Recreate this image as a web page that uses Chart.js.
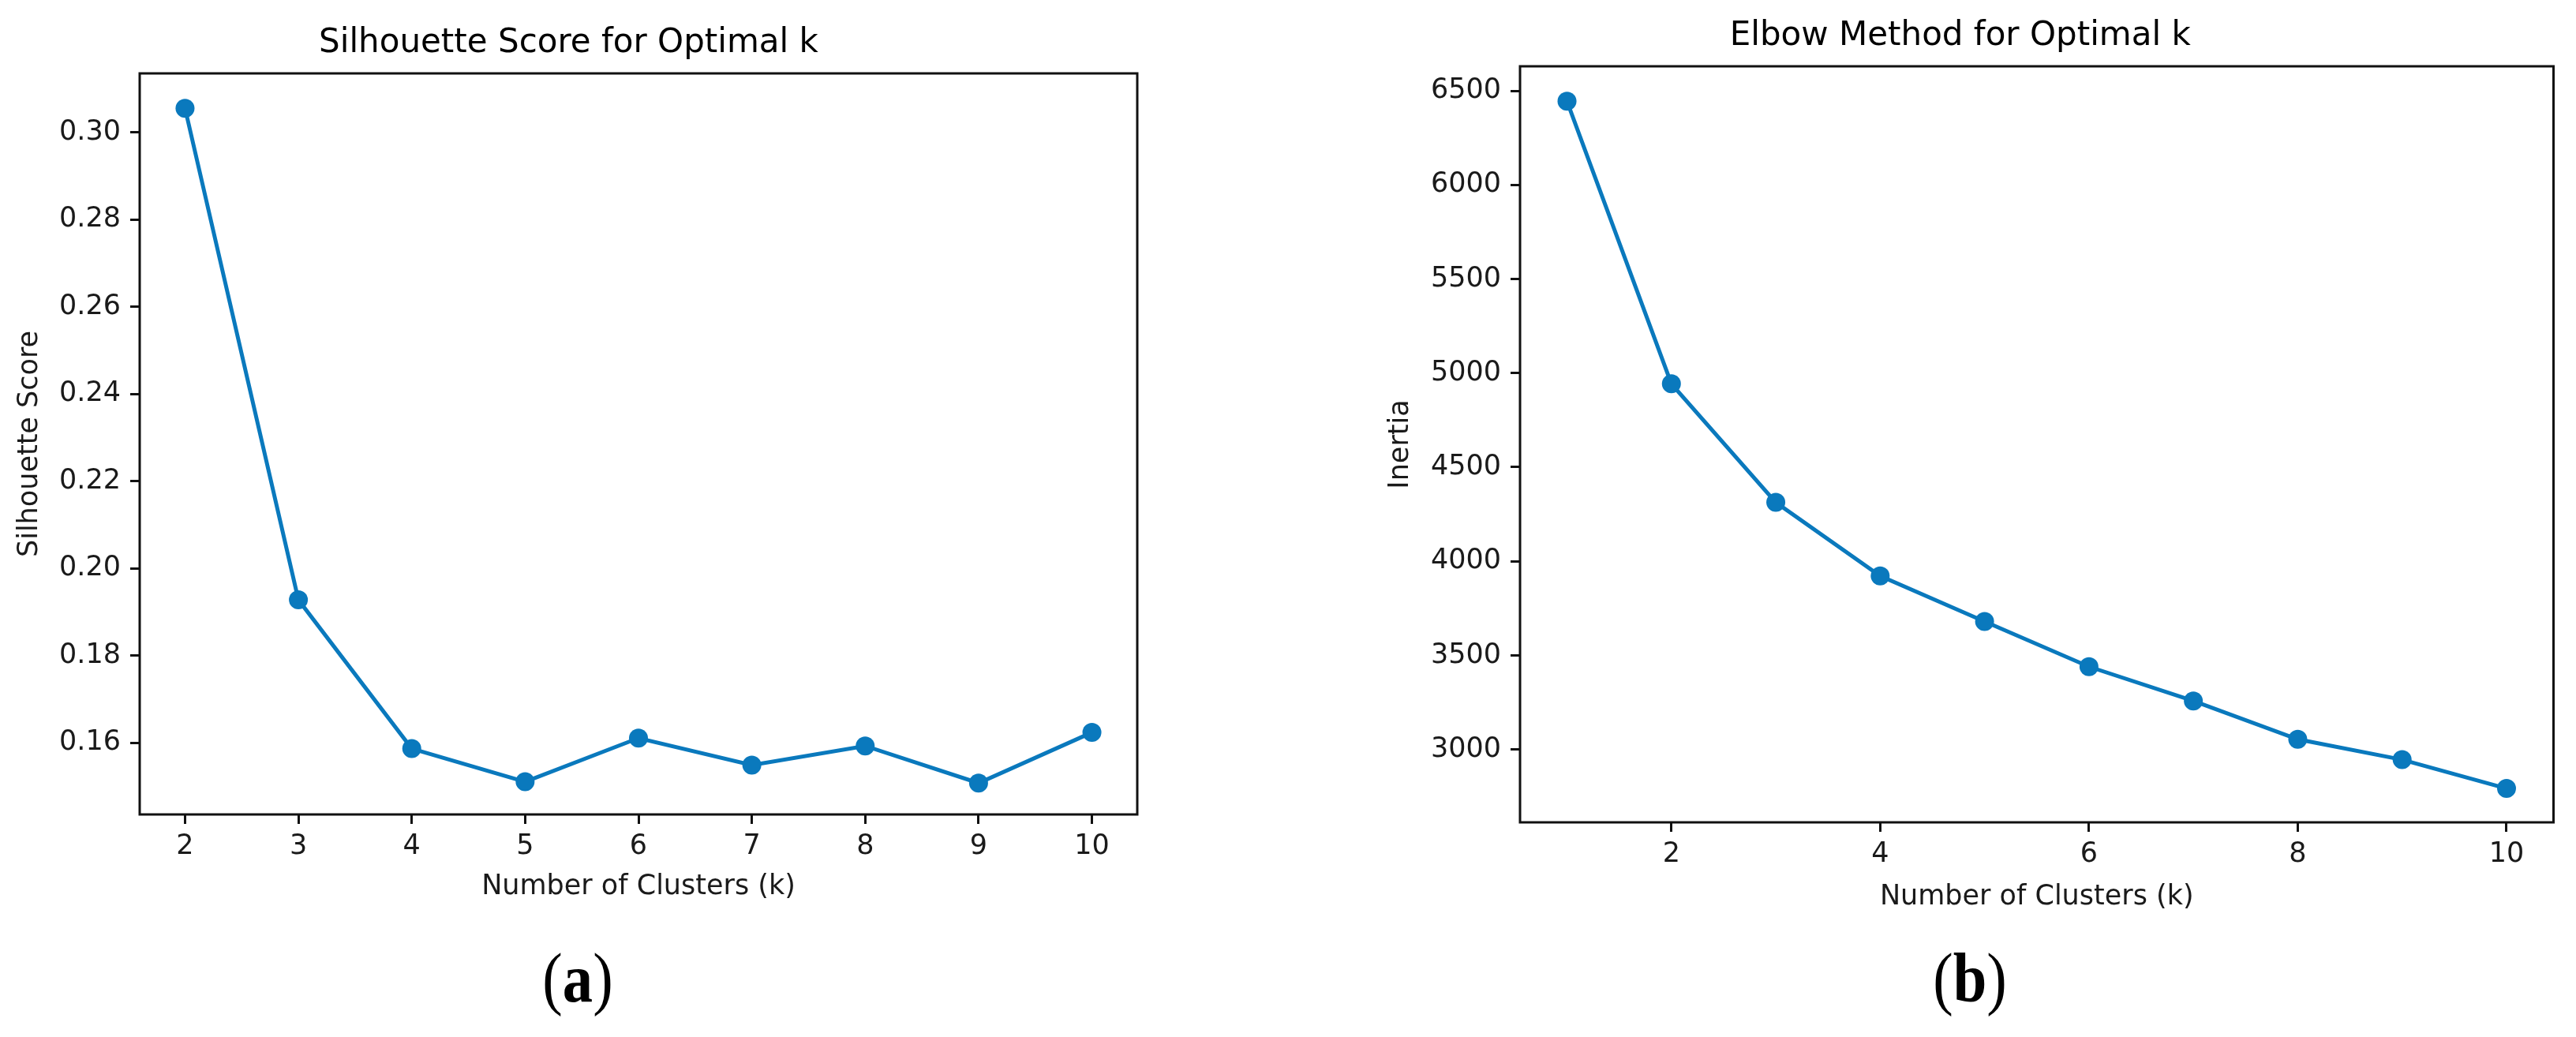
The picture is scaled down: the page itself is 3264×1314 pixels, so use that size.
<!DOCTYPE html>
<html><head><meta charset="utf-8">
<script src="https://cdn.jsdelivr.net/npm/chart.js@4"></script>
<style>
html,body{margin:0;padding:0;background:#fff;}
#fig{position:relative;width:3264px;height:1314px;overflow:hidden;background:#fff;}
canvas{position:absolute;top:0;}
.cap{position:absolute;font-family:"Liberation Serif","Times New Roman",serif;font-size:88px;line-height:1;color:#000;white-space:nowrap;transform:translate(-50%,-50%) scaleX(0.87);}
</style></head><body>
<div id="fig">
<canvas id="c1" width="1632" height="1314" style="left:0;width:1632px;height:1314px"></canvas>
<canvas id="c2" width="1632" height="1314" style="left:1632px;width:1632px;height:1314px"></canvas>
<div class="cap" style="left:732px;top:1240px">(<b>a</b>)</div>
<div class="cap" style="left:2496px;top:1240px">(<b>b</b>)</div>
</div>
<script>
// ---- data ----
const kSil = [2, 3, 4, 5, 6, 7, 8, 9, 10];
const silhouette = [0.3055, 0.1928, 0.1587, 0.1511, 0.1611, 0.1549, 0.1593, 0.1508, 0.1624];
const kElbow = [1, 2, 3, 4, 5, 6, 7, 8, 9, 10];
const inertia = [6444, 4943, 4313, 3922, 3680, 3440, 3258, 3054, 2946, 2793];

const silXTicks = [2, 3, 4, 5, 6, 7, 8, 9, 10];
const silYTicks = [0.16, 0.18, 0.20, 0.22, 0.24, 0.26, 0.28, 0.30];
const silYTickLabels = ['0.16', '0.18', '0.20', '0.22', '0.24', '0.26', '0.28', '0.30'];
const elbowXTicks = [2, 4, 6, 8, 10];
const elbowYTicks = [3000, 3500, 4000, 4500, 5000, 5500, 6000, 6500];
const elbowYTickLabels = ['3000', '3500', '4000', '4500', '5000', '5500', '6000', '6500'];

const titles = ['Silhouette Score for Optimal k', 'Elbow Method for Optimal k'];
const xTitle = 'Number of Clusters (k)';
const yTitles = ['Silhouette Score', 'Inertia'];

// ---- style ----
const BLUE = '#0a79bd';
const FONT = 'DejaVu Sans';
const TXT = '#1a1a1a';

const boxPlugin = {
  id: 'box',
  afterDatasetsDraw(chart) {
    const {ctx, chartArea: a} = chart;
    ctx.save();
    ctx.strokeStyle = '#111';
    ctx.lineWidth = 3;
    ctx.strokeRect(a.left, a.top, a.right - a.left, a.bottom - a.top);
    ctx.restore();
  }
};

function labelFor(values, labels) {
  return (v) => {
    let best = 0, d = Infinity;
    values.forEach((t, i) => { const dd = Math.abs(t - v); if (dd < d) { d = dd; best = i; } });
    return labels[best];
  };
}

function makeChart(id, o) {
  const pts = o.xs.map((x, i) => ({x: x, y: o.ys[i]}));
  return new Chart(document.getElementById(id), {
    type: 'line',
    data: { datasets: [{
      data: pts,
      borderColor: BLUE, backgroundColor: BLUE,
      borderWidth: 5, pointRadius: 12, pointBorderWidth: 0,
      pointBackgroundColor: BLUE, pointHoverRadius: 12, tension: 0, fill: false
    }]},
    options: {
      responsive: false, animation: false, devicePixelRatio: 1,
      layout: { padding: o.pad },
      plugins: {
        legend: { display: false }, tooltip: { enabled: false },
        title: { display: true, text: o.title, color: '#000',
          font: { family: FONT, size: 42, weight: 'normal', lineHeight: 1.2 },
          padding: o.titlePad }
      },
      scales: {
        x: {
          type: 'linear', min: o.xMin, max: o.xMax,
          afterBuildTicks: (s) => { s.ticks = o.xTicks.map(v => ({value: v})); },
          afterFit: (s) => { s.height = o.xH; },
          ticks: { color: TXT, font: { family: FONT, size: 35 }, padding: 8, maxRotation: 0,
                   callback: (v) => String(v) },
          grid: { drawOnChartArea: false, drawTicks: true, tickLength: 12, tickWidth: 3, tickColor: '#111', lineWidth: 3 },
          border: { display: false },
          title: { display: true, text: xTitle, color: TXT, font: { family: FONT, size: 35, lineHeight: 1.2 }, padding: {top: 0, bottom: 0} }
        },
        y: {
          type: 'linear', min: o.yMin, max: o.yMax,
          afterBuildTicks: (s) => { s.ticks = o.yTicks.map(v => ({value: v})); },
          afterFit: (s) => { s.width = o.yW; },
          ticks: { color: TXT, font: { family: FONT, size: 35 }, padding: 12,
                   callback: labelFor(o.yTicks, o.yLabels) },
          grid: { drawOnChartArea: false, drawTicks: true, tickLength: 12, tickWidth: 3, tickColor: '#111', lineWidth: 3 },
          border: { display: false },
          title: { display: true, text: o.yTitle, color: TXT, font: { family: FONT, size: 35, lineHeight: 1.2 }, padding: {top: o.yTitlePad, bottom: 0} }
        }
      }
    },
    plugins: [boxPlugin]
  });
}

makeChart('c1', {
  xs: kSil, ys: silhouette, title: titles[0], yTitle: yTitles[0],
  xTicks: silXTicks, yTicks: silYTicks, yLabels: silYTickLabels,
  xMin: 1.6, xMax: 10.4, yMin: 0.1436, yMax: 0.3135,
  pad: {left: 0, right: 191, top: 0, bottom: 169},
  titlePad: {top: 30, bottom: 12.6}, xH: 113, yW: 177, yTitlePad: 16.5
});

makeChart('c2', {
  xs: kElbow, ys: inertia, title: titles[1], yTitle: yTitles[1],
  xTicks: elbowXTicks, yTicks: elbowYTicks, yLabels: elbowYTickLabels,
  xMin: 0.55, xMax: 10.45, yMin: 2613, yMax: 6630,
  pad: {left: 100, right: 28.5, top: 0, bottom: 156},
  titlePad: {top: 20.8, bottom: 12.8}, xH: 116, yW: 194, yTitlePad: 22
});
</script>
</body></html>
